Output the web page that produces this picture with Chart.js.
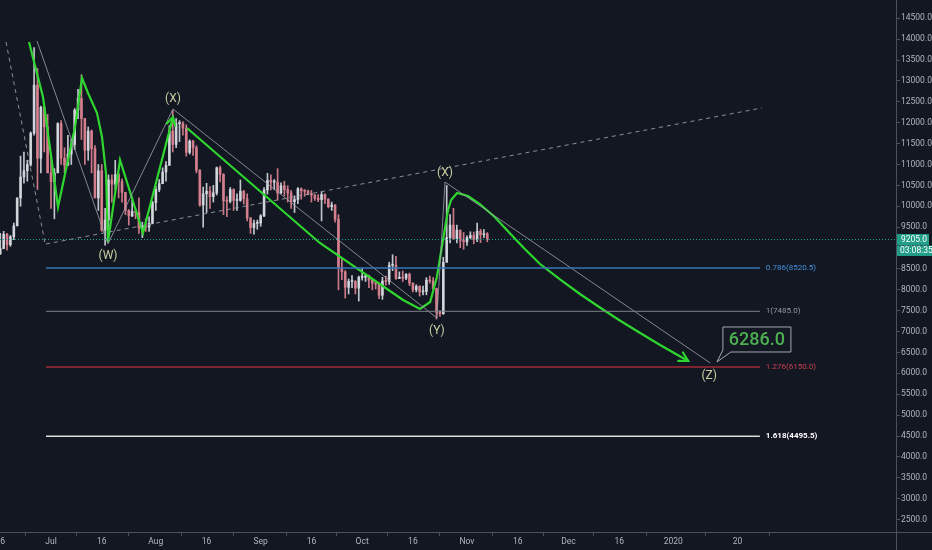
<!DOCTYPE html>
<html><head><meta charset="utf-8">
<script src="https://cdn.jsdelivr.net/npm/chart.js@4.4.0/dist/chart.umd.min.js"></script>
<style>html,body{margin:0;padding:0;background:#131722;overflow:hidden}canvas{display:block}</style>
</head><body><canvas id="c" width="932" height="550"></canvas>
<script>
// ---------- DATA ----------
const candleDates = [
'06-14','06-15','06-16','06-17','06-18','06-19','06-20','06-21','06-22','06-23','06-24','06-25','06-26','06-27','06-28','06-29','06-30',
'07-01','07-02','07-03','07-04','07-05','07-06','07-07','07-08','07-09','07-10','07-11','07-12','07-13','07-14','07-15','07-16','07-17','07-18','07-19','07-20','07-21','07-22','07-23','07-24','07-25','07-26','07-27','07-28','07-29','07-30','07-31',
'08-01','08-02','08-03','08-04','08-05','08-06','08-07','08-08','08-09','08-10','08-11','08-12','08-13','08-14','08-15','08-16','08-17','08-18','08-19','08-20','08-21','08-22','08-23','08-24','08-25','08-26','08-27','08-28','08-29','08-30','08-31',
'09-01','09-02','09-03','09-04','09-05','09-06','09-07','09-08','09-09','09-10','09-11','09-12','09-13','09-14','09-15','09-16','09-17','09-18','09-19','09-20','09-21','09-22','09-23','09-24','09-25','09-26','09-27','09-28','09-29','09-30',
'10-01','10-02','10-03','10-04','10-05','10-06','10-07','10-08','10-09','10-10','10-11','10-12','10-13','10-14','10-15','10-16','10-17','10-18','10-19','10-20','10-21','10-22','10-23','10-24','10-25','10-26','10-27','10-28','10-29','10-30','10-31',
'11-01','11-02','11-03','11-04','11-05','11-06','11-07'];
const opens = [
8230,8690,8860,8990,9330,9080,9270,9530,10200,10700,10850,11000,11750,12900,11150,12370,11900,
10800,10590,10800,11980,11150,10980,11250,11480,12300,12580,12100,11340,11800,11380,10200,10850,9430,9670,10630,10530,10760,10590,10330,9900,9770,9880,9850,9480,9530,9500,9590,
10090,10400,10540,10820,10980,11800,11480,11980,11980,11870,11290,11560,11400,10860,10030,10300,10360,10230,10320,10920,10760,10130,10120,10400,10140,10140,10360,10180,9720,9490,9590,
9600,9770,10390,10620,10580,10580,10320,10490,10400,10320,10110,10160,10420,10370,10360,10310,10270,10190,10160,10280,10170,9990,10030,9690,8530,8430,8060,8200,8200,8040,
8300,8300,8340,8230,8160,8140,7870,8210,8200,8590,8590,8270,8300,8280,8370,8160,8000,8080,7950,7960,8230,8210,8030,7460,7430,8660,9250,9550,9220,9430,9180,
9150,9250,9300,9200,9400,9320,9340];
const highs = [
8700,8870,9350,9400,9350,9300,9600,10200,11200,11300,11100,11780,13800,13300,12400,12400,12200,
11200,10900,12000,12050,11400,11700,11600,12340,12800,13150,12100,11900,11830,11450,11000,11000,9950,10750,10750,11100,10800,10650,10330,9920,10150,9900,10200,9620,9700,9750,10120,
10480,10640,10920,11070,11930,12300,12100,12050,12030,11950,11590,11580,11450,10880,10460,10550,10470,10500,10940,10960,10780,10230,10450,10420,10300,10630,10380,10300,9730,9670,9670,
9800,10450,10790,10750,10640,10900,10560,10600,10490,10380,10250,10450,10440,10400,10390,10380,10280,10280,10350,10300,10180,10100,10040,9800,8730,8460,8260,8340,8220,8330,
8500,8380,8350,8250,8180,8160,8300,8330,8660,8840,8800,8430,8450,8390,8400,8170,8120,8100,8090,8290,8330,8290,8040,7500,8780,10500,9800,9950,9550,9430,9370,
9290,9390,9380,9600,9450,9440,9370];
const lows = [
8170,8620,8850,8980,8950,9040,9200,9530,10000,10550,10600,10960,11700,10400,10800,11300,10800,
9950,9700,10800,11000,10800,10980,11000,11360,12100,11600,11000,11100,10800,10200,9900,9400,9070,9300,10100,10400,10200,10100,9800,9550,9750,9700,9350,9250,9400,9400,9580,
9900,10350,10540,10600,10980,11300,11400,11550,11700,11200,11250,11220,10800,10000,9500,9850,9950,10100,10270,10580,9800,9750,10080,9900,9900,10120,10050,9650,9350,9330,9450,
9520,9750,10290,10390,10400,10150,10300,10250,10100,9950,9850,10060,10170,10240,10270,10100,10140,10110,9650,10060,9960,9900,9620,8000,8240,7800,7900,8050,7900,7730,
8230,8200,8050,8000,8020,7790,7770,8110,8130,8460,8250,8270,8200,8240,8100,7950,7950,7850,7880,7880,8160,8020,7300,7360,7410,8660,9120,9200,9120,9010,8970,
9060,9220,9100,9150,9130,9250,9150];
const closes = [
8690,8860,8990,9330,9080,9270,9530,10200,10700,10850,11000,11750,12900,11150,12370,11900,10800,
10590,10800,11980,11150,10980,11250,11480,12300,12580,12100,11340,11800,11380,10200,10850,9430,9670,10630,10530,10760,10590,10330,9900,9770,9880,9850,9480,9530,9500,9590,10090,
10400,10540,10820,10980,11800,11480,11980,11980,11870,11290,11560,11400,10860,10030,10300,10360,10230,10320,10920,10760,10130,10120,10400,10140,10140,10360,10180,9720,9490,9590,9600,
9770,10390,10620,10580,10580,10320,10490,10400,10320,10110,10160,10420,10370,10360,10310,10270,10190,10160,10280,10170,9990,10030,9690,8530,8430,8060,8200,8200,8040,8300,
8300,8340,8230,8160,8140,7870,8210,8200,8590,8590,8270,8300,8280,8370,8160,8000,8080,7950,7960,8230,8210,8030,7460,7430,8660,9250,9550,9220,9430,9180,9150,
9250,9300,9200,9400,9320,9340,9205];

// axis ticks
const xTickDates = ['2019-06-16','2019-07-01','2019-07-16','2019-08-01','2019-08-16','2019-09-01','2019-09-16','2019-10-01','2019-10-16','2019-11-01','2019-11-16','2019-12-01','2019-12-16','2020-01-01','2020-01-20'];
const xTickLabels = ['16','Jul','16','Aug','16','Sep','16','Oct','16','Nov','16','Dec','16','2020','20'];
const yTickValues = [2500,3000,3500,4000,4500,5000,5500,6000,6500,7000,7500,8000,8500,9000,9500,10000,10500,11000,11500,12000,12500,13000,13500,14000,14500];
const xView = [-15.08, 249.85];   // days from 2019-07-01
const yView = [2202, 14938];

// last price
const lastPrice = 9205.0;
const countdown = '03:08:35';

// fibonacci levels
const fibRatios = ['0.786','1','1.276','1.618'];
const fibPrices = [8520.5, 7485.0, 6150.0, 4495.5];
const fibSpanDays = [-1.48, 209.6];

// wave connectors (thin grey) P -> (W) -> (X) -> (Y) -> (X) -> (Z)
const waveDays   = [-4.14, 16.85, 36.07, 114.1, 116.5, 194.9];
const wavePrices = [13957, 9100, 12329, 7325, 10581, 6248];

// wave labels
const waveLabels      = ['(W)','(X)','(Y)','(X)','(Z)'];
const waveLabelDays   = [16.85, 36.07, 114.1, 116.5, 194.6];
const waveLabelPrices = [8809, 12568, 7014, 10797, 5937];

// dashed trend lines
const trendLeftDays = [-13.3, -1.77];   const trendLeftPrices = [13933, 9121];
const trendRiseDays = [-1.48, 210.2];   const trendRisePrices = [9097, 12353];

// green projection paths
const greenADays   = [-6.5, -2.37, 0.59, 2.07, 7.1, 9.17, 10.94, 13.6, 15.08, 16.26, 16.85, 20.4, 27.2, 36.07];
const greenAPrices = [13933, 12616, 10868, 9983, 11898, 13071, 12712, 12233, 11658, 10797, 9145, 11108, 9360, 12137];
const greenBDays   = [40.2, 79.5, 104.1, 109.1, 112.1, 114.1, 115.9, 117.4, 118.3, 120.05, 123.3, 126.8, 131.2, 135.6, 140.1, 144.6, 150.5, 156.4, 162.3, 168.2, 174.2, 180.1, 188.4];
const greenBPrices = [11874, 9121, 7756, 7541, 7708, 8307, 9193, 9911, 10150, 10318, 10246, 10054, 9743, 9360, 8977, 8618, 8247, 7900, 7576, 7265, 6966, 6679, 6296];

// target callout
const calloutText = '6286.0';
const calloutDay = 196.9, calloutPrice = 6272;

// ---------- HELPERS ----------
const BASE = Date.parse('2019-07-01T00:00:00Z');
const toDay = iso => (Date.parse(iso + 'T00:00:00Z') - BASE) / 864e5;
const candleX = candleDates.map(d => toDay('2019-' + d));
const xTickDays = xTickDates.map(toDay);
const pts = (ds, ps) => ds.map((d, i) => ({x: d, y: ps[i]}));

const UP = 'rgba(214,218,224,0.9)', DOWN = 'rgba(214,128,142,0.95)';
const candleColors = opens.map((o, i) => closes[i] >= o ? UP : DOWN);
const FONT = "Roboto, 'Noto Sans', sans-serif";

function lineDs(data, color, width, dash, extra) {
  return Object.assign({type:'line', data, borderColor: color, borderWidth: width, borderDash: dash || [],
    pointRadius: 0, pointHoverRadius: 0, fill: false, tension: 0, order: 1}, extra || {});
}

const fibLineColors = ['#3577b8', '#7d808a', '#a62a37', '#dcdcdc'];
const fibLineWidths = [1.5, 1, 1.5, 1.5];
const fibLabelColors = ['#4592db', '#9598a1', '#c8404e', '#ffffff'];

const datasets = [
  {type:'bar', data: candleX.map((x, i) => ({x, y: [lows[i], highs[i]]})), backgroundColor: candleColors,
   barThickness: 1, grouped: false, order: 10},
  {type:'bar', data: candleX.map((x, i) => ({x, y: [Math.min(opens[i], closes[i]), Math.max(opens[i], closes[i])]})),
   backgroundColor: candleColors, barThickness: 2, minBarLength: 1, grouped: false, order: 9},
  lineDs(pts(xView, [lastPrice, lastPrice]), '#26a69a', 1, [1, 2]),
];
fibPrices.forEach((p, i) => datasets.push(lineDs(pts(fibSpanDays, [p, p]), fibLineColors[i], fibLineWidths[i])));
datasets.push(lineDs(pts(trendLeftDays, trendLeftPrices), 'rgba(160,163,172,0.85)', 1, [4, 4]));
datasets.push(lineDs(pts(trendRiseDays, trendRisePrices), 'rgba(160,163,172,0.85)', 1, [4, 4]));
datasets.push(lineDs(pts(waveDays, wavePrices), 'rgba(160,163,172,0.8)', 1));
datasets.push(lineDs(pts(greenADays, greenAPrices), '#2fd62f', 2.2));
datasets.push(lineDs(pts(greenBDays, greenBPrices), '#2fd62f', 2.2, {cubicInterpolationMode: 'monotone'}));

function arrowHead(ctx, fx, fy, tx, ty, len) {
  const a = Math.atan2(ty - fy, tx - fx);
  ctx.beginPath();
  ctx.moveTo(tx - len * Math.cos(a - 0.5), ty - len * Math.sin(a - 0.5));
  ctx.lineTo(tx, ty);
  ctx.lineTo(tx - len * Math.cos(a + 0.5), ty - len * Math.sin(a + 0.5));
  ctx.stroke();
}

const overlay = {
  id: 'overlay',
  beforeDraw(chart) {
    const c = chart.ctx; c.save(); c.fillStyle = '#131722'; c.fillRect(0, 0, chart.width, chart.height); c.restore();
  },
  afterDraw(chart) {
    const {ctx, chartArea: a} = chart;
    const X = chart.scales.x, Y = chart.scales.y;
    const px = d => X.getPixelForValue(d), py = p => Y.getPixelForValue(p);
    ctx.save();
    // axis lines
    ctx.strokeStyle = '#4c505b'; ctx.lineWidth = 1;
    ctx.beginPath();
    ctx.moveTo(0, Math.round(a.bottom) + 0.5); ctx.lineTo(chart.width, Math.round(a.bottom) + 0.5);
    ctx.moveTo(Math.round(a.right) + 0.5, 0); ctx.lineTo(Math.round(a.right) + 0.5, chart.height);
    ctx.stroke();

    // fib labels
    ctx.textBaseline = 'middle'; ctx.textAlign = 'left';
    fibPrices.forEach((p, i) => {
      ctx.font = (i === 3 ? 'bold ' : '') + '8px ' + FONT;
      ctx.fillStyle = fibLabelColors[i];
      ctx.fillText(fibRatios[i] + '(' + p.toFixed(1) + ')', px(fibSpanDays[1]) + 6, py(p));
    });

    // wave labels
    ctx.font = '12px ' + FONT; ctx.textAlign = 'center'; ctx.fillStyle = '#c9cfa2';
    waveLabels.forEach((t, i) => ctx.fillText(t, px(waveLabelDays[i]), py(waveLabelPrices[i])));

    // arrow heads on green paths
    ctx.strokeStyle = '#2fd62f'; ctx.lineWidth = 2.2; ctx.lineCap = 'round';
    let n = greenADays.length;
    arrowHead(ctx, px(greenADays[n-2]), py(greenAPrices[n-2]), px(greenADays[n-1]), py(greenAPrices[n-1]), 9);
    n = greenBDays.length;
    arrowHead(ctx, px(greenBDays[n-2]), py(greenBPrices[n-2]), px(greenBDays[n-1]), py(greenBPrices[n-1]), 10);

    // callout
    const tx = px(calloutDay), ty = py(calloutPrice);
    const L = tx + 6, R = tx + 74, T = ty - 35, B = ty - 10;
    ctx.beginPath();
    ctx.moveTo(L, T); ctx.lineTo(R, T); ctx.lineTo(R, B); ctx.lineTo(L + 8, B); ctx.lineTo(tx, ty); ctx.lineTo(L, B - 2); ctx.closePath();
    ctx.fillStyle = '#141823'; ctx.fill();
    ctx.strokeStyle = '#a4a7b0'; ctx.lineWidth = 1; ctx.lineCap = 'butt'; ctx.stroke();
    ctx.font = '500 18px ' + FONT; ctx.fillStyle = '#4caf50'; ctx.textAlign = 'center'; ctx.textBaseline = 'middle';
    ctx.fillText(calloutText, (L + R) / 2, (T + B) / 2 + 1);

    // price tag
    const yp = py(lastPrice);
    const ax = Math.round(a.right) + 1;
    ctx.fillStyle = '#229e88';
    ctx.fillRect(ax, yp - 5.5, 32, 11);
    ctx.fillRect(ax, yp + 6, 35, 10.5);
    ctx.fillStyle = '#ffffff'; ctx.font = '8.5px ' + FONT; ctx.textAlign = 'left';
    ctx.fillText(lastPrice.toFixed(1), ax + 4, yp + 0.5);
    ctx.fillText(countdown, ax + 3, yp + 11.5);
    ctx.restore();
  }
};

new Chart(document.getElementById('c'), {
  type: 'bar',
  data: {datasets},
  plugins: [overlay],
  options: {
    responsive: false, animation: false,
    layout: {padding: 0},
    plugins: {legend: {display: false}, tooltip: {enabled: false}},
    scales: {
      x: {
        type: 'linear', min: xView[0], max: xView[1], offset: false,
        grid: {display: true, drawOnChartArea: false, drawTicks: true, tickLength: 4, tickColor: '#4c505b'},
        border: {display: false},
        ticks: {autoSkip: false, maxRotation: 0, minRotation: 0, padding: 1, color: '#b2b5be',
          font: {family: FONT, size: 8.5}, callback: (v, i) => xTickLabels[i]},
        afterBuildTicks: s => { s.ticks = xTickDays.map(v => ({value: v})); },
        afterFit: s => { s.height = 18; s.paddingLeft = 0; s.paddingRight = 0; }
      },
      y: {
        type: 'linear', position: 'right', min: yView[0], max: yView[1],
        grid: {display: true, drawOnChartArea: false, drawTicks: true, tickLength: 4, tickColor: '#4c505b'},
        border: {display: false},
        ticks: {padding: 1, color: '#b2b5be', font: {family: FONT, size: 8.5}, callback: v => Number(v).toFixed(1)},
        afterBuildTicks: s => { s.ticks = yTickValues.map(v => ({value: v})); },
        afterFit: s => { s.width = 36; s.paddingTop = 0; s.paddingBottom = 0; }
      }
    }
  }
});
</script>
</body></html>
